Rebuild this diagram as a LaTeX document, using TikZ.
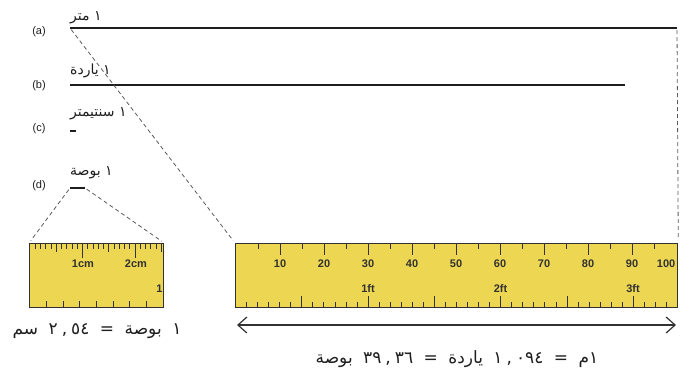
\documentclass[tikz,border=0pt]{standalone}
\usepackage{fontspec}
\setmainfont{Liberation Sans}
\newfontfamily\arabicfont[Script=Arabic]{DejaVu Sans}
\TeXXeTstate=1
\usetikzlibrary{arrows.meta}
\definecolor{rulerfill}{RGB}{236,214,82}
\definecolor{edge}{RGB}{50,50,50}
\definecolor{barcol}{RGB}{30,30,30}
\definecolor{guidecol}{RGB}{90,90,90}
\newcommand{\wideword}{\spaceskip=10.5pt\relax}
\newcommand{\nsp}{\kern4pt}
\tikzset{
  lbl/.style={font=\fontsize{11}{12}\selectfont, text=barcol, inner sep=0pt},
  arlbl/.style={font=\arabicfont\fontsize{14}{16}\selectfont, text=barcol, inner sep=0pt, anchor=base west},
  areq/.style={font=\arabicfont\fontsize{17}{19}\selectfont, text=barcol, inner sep=0pt, anchor=base},
  bar/.style={draw=barcol, line width=2.8pt},
  guide/.style={draw=guidecol, line width=0.8pt, dash pattern=on 4pt off 3pt, shorten <=2pt, shorten >=3pt},
  rulerbox/.style={draw=edge, fill=rulerfill, line width=1.3pt, inner sep=0pt, anchor=north west},
  tick/.style={draw=edge, line width=0.9pt},
  num/.style={font=\bfseries\fontsize{11}{12}\selectfont, text=edge, inner sep=0pt},
  dimline/.style={draw=edge, line width=1.2pt, {Straight Barb[length=9pt,width=16pt]}-{Straight Barb[length=9pt,width=16pt]}},
}
\begin{document}
\begin{tikzpicture}[x=1pt,y=-1pt]
\useasboundingbox (0,0) rectangle (681,381);
% row labels
\node[lbl] (la) at (39,32) {(a)};
\node[lbl] (lb) at (39,86) {(b)};
\node[lbl] (lc) at (39,129) {(c)};
\node[lbl] (ld) at (39,186) {(d)};
% bars
\coordinate (a0) at (70,28); \coordinate (a1) at (677,28);
\coordinate (b0) at (70,85); \coordinate (b1) at (625,85);
\coordinate (c0) at (70,131); \coordinate (c1) at (76,131);
\coordinate (d0) at (70,188); \coordinate (d1) at (85,188);
\draw[bar] (a0) -- (a1);
\draw[bar] (b0) -- (b1);
\draw[bar] (c0) -- (c1);
\draw[bar] (d0) -- (d1);
% arabic labels
\node[arlbl] (ta) at (70,20) {\beginR ١ متر\endR};
\node[arlbl] (tb) at (70,74) {\beginR ١ ياردة\endR};
\node[arlbl] (tc) at (70,116) {\beginR ١ سنتيمتر\endR};
\node[arlbl] (td) at (70,175) {\beginR ١ بوصة\endR};
% rulers
\node[rulerbox, minimum width=134pt, minimum height=64pt] (sr) at (29,243) {};
\node[rulerbox, minimum width=442pt, minimum height=64pt] (br) at (235,243) {};
% guides
\draw[guide] (a0) -- (br.north west);
\draw[guide] (a1) -- (br.north east);
\draw[guide] (d0) -- (sr.north west);
\draw[guide] (d1) -- (sr.north east);
% small ruler ticks
\foreach \i in {1,...,25}{
  \pgfmathsetmacro\len{ifthenelse(mod(\i,10)==0,14,ifthenelse(mod(\i,5)==0,8,5))}
  \draw[tick] ({30+5.25*\i},243.5) -- ++(0,\len);
}
\foreach \k in {1,...,7}{
  \draw[tick] ({30+16.63*\k},306.5) -- ++(0,-6);
}
\node[num] (cm1) at (83,264) {1cm};
\node[num] (cm2) at (136,264) {2cm};
\node[num] (in1) at (159.5,289) {1};
% big ruler ticks
\foreach \i in {1,...,19}{
  \pgfmathsetmacro\len{ifthenelse(mod(\i,2)==0,11,5)}
  \draw[tick] ({236+22*\i},243.5) -- ++(0,\len);
}
\foreach \k in {1,...,9}{
  \pgfmathtruncatemacro\val{10*\k}
  \node[num] (n\k) at ({236+44*\k},264) {\val};
}
\node[num, anchor=east] (n10) at (675.5,264) {100};
\foreach \k in {1,...,39}{
  \pgfmathsetmacro\len{ifthenelse(mod(\k,6)==0,11,5)}
  \draw[tick] ({235.5+11.05*\k},306.5) -- ++(0,-\len);
}
\node[num] (ft1) at (368,289) {1ft};
\node[num] (ft2) at (500.5,289) {2ft};
\node[num] (ft3) at (633,289) {3ft};
% dimension arrow
\coordinate (e0) at (237,325); \coordinate (e1) at (676,325);
\draw[dimline] (e0) -- (e1);
% equations
\node[areq] (eq1) at (97,334) {\wideword\beginR ١ بوصة = \beginL٢\nsp,\nsp٥٤\endL{} سم\endR};
\node[areq] (eq2) at (457,363) {\wideword\beginR ١م = \beginL١\nsp,\nsp٠٩٤\endL{} ياردة = \beginL٣٩\nsp,\nsp٣٦\endL{} بوصة\endR};
\end{tikzpicture}
\end{document}
